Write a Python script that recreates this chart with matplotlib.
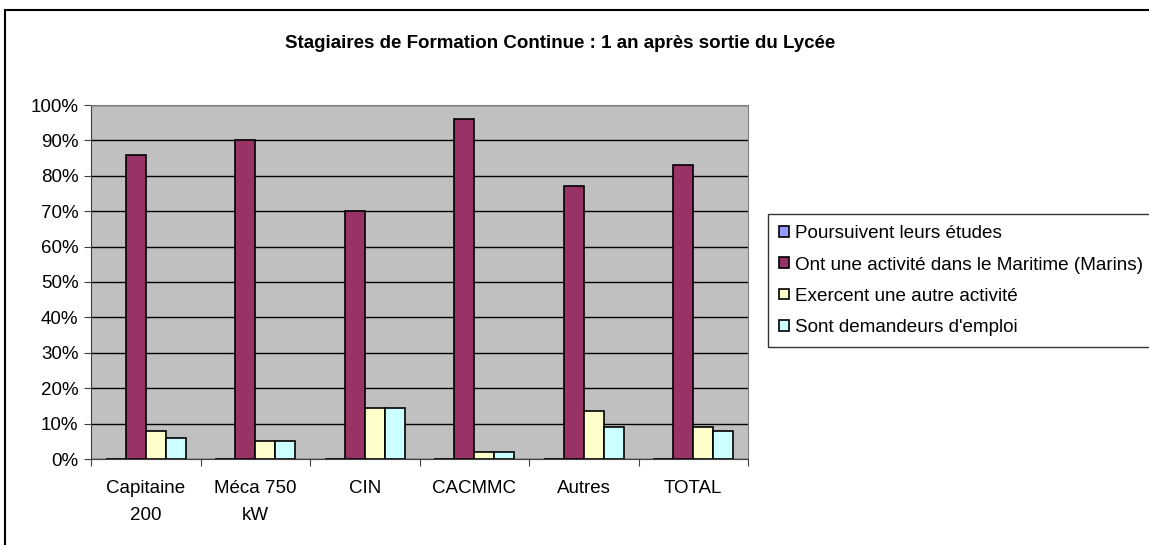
import numpy as np
import matplotlib.pyplot as plt
from matplotlib.patches import Rectangle

plt.rcParams['font.family'] = ['Liberation Sans', 'DejaVu Sans']

categories = ["Capitaine\n200", "Méca 750\nkW", "CIN", "CACMMC", "Autres", "TOTAL"]
series_names = ["Poursuivent leurs études",
                "Ont une activité dans le Maritime (Marins)",
                "Exercent une autre activité",
                "Sont demandeurs d'emploi"]
etudes = [0, 0, 0, 0, 0, 0]
maritime = [86, 90, 70, 96, 77, 83]
autre = [8, 5, 14.5, 2, 13.6, 9]
emploi = [6, 5, 14.5, 2, 9, 8]
colors = ["#9999FF", "#993366", "#FFFFCC", "#CCFFFF"]

fig = plt.figure(figsize=(11.49, 5.45), dpi=100)
fig.patches.append(Rectangle((5 / 1149, -0.05), 1.1, 1.05 - 10 / 545, transform=fig.transFigure,
                             fill=False, edgecolor="black", linewidth=1.5))
ax = fig.add_axes([91 / 1149, 1 - 459 / 545, (748 - 91) / 1149, (459 - 105) / 545])
ax.set_facecolor("#C0C0C0")

x = np.arange(len(categories))
w = 1 / 5.5
for i, (vals, c, name) in enumerate(zip([etudes, maritime, autre, emploi], colors, series_names)):
    ax.bar(x + (i - 1.5) * w, vals, w, color=c, edgecolor="black", linewidth=1.2,
           label=name, zorder=3)

ax.set_xlim(-0.5, len(categories) - 0.5)
ax.set_ylim(0, 100)
ax.set_yticks(np.arange(0, 101, 10))
ax.set_yticklabels([f"{v}%" for v in range(0, 101, 10)], fontsize=13.5)
ax.yaxis.grid(True, color="black", linewidth=1)
ax.set_axisbelow(True)

ax.set_xticks(np.arange(-0.5, len(categories), 1))
ax.set_xticklabels([])
ax.set_xticks(x, minor=True)
ax.set_xticklabels(categories, minor=True, fontsize=13.5, linespacing=1.75)
ax.tick_params(axis="x", which="minor", length=0, pad=15)
ax.tick_params(axis="x", which="major", length=5, direction="out", color="#404040")
ax.tick_params(axis="y", length=5, direction="out", pad=4, color="#404040")

for s in ["top", "right"]:
    ax.spines[s].set_color("#808080")
ax.spines["left"].set_color("#404040")
ax.spines["bottom"].set_color("#404040")

fig.text(560 / 1149, 1 - 43 / 545, "Stagiaires de Formation Continue : 1 an après sortie du Lycée",
         ha="center", va="center", fontsize=13.5, fontweight="bold")

leg = fig.legend(loc="upper left", bbox_to_anchor=(768 / 1149, 1 - 214 / 545), fontsize=13.6,
                 frameon=True, fancybox=False, shadow=False, handlelength=0.5, handleheight=0.5,
                 handletextpad=0.35, labelspacing=0.75, borderaxespad=0, borderpad=0.6)
leg.get_frame().set_edgecolor("black")
leg.get_frame().set_linewidth(1)

fig.savefig("out.png", dpi=100)
